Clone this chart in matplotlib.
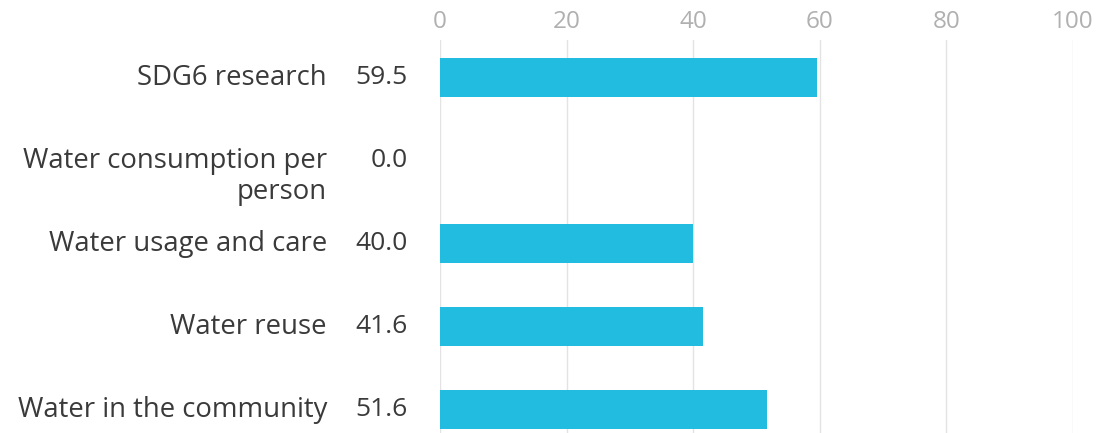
import matplotlib
matplotlib.use("Agg")
import matplotlib.pyplot as plt

categories = ["SDG6 research", "Water consumption per\nperson", "Water usage and care", "Water reuse", "Water in the community"]
values = [59.5, 0.0, 40.0, 41.6, 51.6]
xticks = [0, 20, 40, 60, 80, 100]

plt.rcParams['font.family'] = ['Open Sans', 'DejaVu Sans']

W, H = 1102, 433
fig = plt.figure(figsize=(W/100, H/100), dpi=100)
ax = fig.add_axes([440/W, 0, (1073-440)/W, 1 - 40/H])

pos = list(range(len(categories)))
ax.barh(pos, values, height=0.47, color="#22bce0", linewidth=0, zorder=3)
ax.set_xlim(0, 100)
ax.set_ylim(4 + 0.283, -0.452)
ax.set_xticks(xticks)
ax.xaxis.tick_top()
ax.tick_params(axis='x', length=0, pad=4, labelsize=17.5, labelcolor="#b0b0b0")
ax.set_yticks([])
ax.grid(axis='x', color="#e3e3e3", linewidth=1, zorder=0)
for s in ax.spines.values():
    s.set_visible(False)

tr = ax.get_yaxis_transform()
for p, c, v in zip(pos, categories, values):
    for i, line in enumerate(c.split("\n")):
        ax.text(-(440 - 327) / 633, p + i * 31 / 83, line, transform=tr, ha='right', va='center',
                fontsize=19.8, color="#3a3a3a")
    ax.text(-(440 - 408) / 633, p, f"{v:.1f}", transform=tr, ha='right', va='center',
            fontsize=19, color="#3a3a3a")

fig.savefig("out.png", dpi=100)
